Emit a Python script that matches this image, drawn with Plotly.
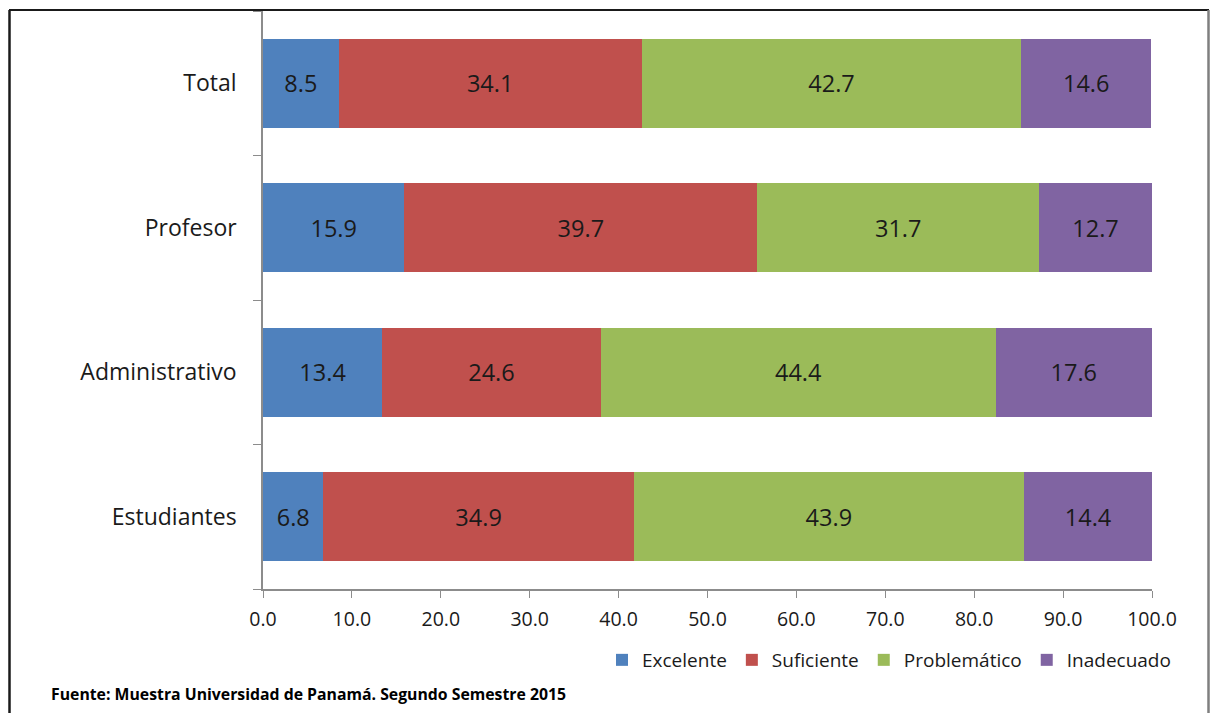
import plotly.graph_objects as go

# Survey groups (top to bottom as drawn)
categorias = ["Total", "Profesor", "Administrativo", "Estudiantes"]

excelente = [8.5, 15.9, 13.4, 6.8]
suficiente = [34.1, 39.7, 24.6, 34.9]
problematico = [42.7, 31.7, 44.4, 43.9]
inadecuado = [14.6, 12.7, 17.6, 14.4]

series = [
    ("Excelente", excelente, "#4F81BD"),
    ("Suficiente", suficiente, "#C0504D"),
    ("Problemático", problematico, "#9BBB59"),
    ("Inadecuado", inadecuado, "#8064A2"),
]

ticks_x = [0, 10, 20, 30, 40, 50, 60, 70, 80, 90, 100]

FONT = "Open Sans, Liberation Sans, sans-serif"
TEXT = "#1a1a1a"

fig = go.Figure()
for nombre, valores, color in series:
    fig.add_trace(go.Bar(
        name=nombre,
        y=categorias,
        x=valores,
        orientation="h",
        marker=dict(color=color, line=dict(width=0)),
        text=[f"{v:.1f}" for v in valores],
        textposition="inside",
        insidetextanchor="middle",
        textangle=0,
        constraintext="none",
        textfont=dict(family=FONT, size=23.5, color=TEXT),
    ))

W, H = 1211, 713
L, R, T, B = 263, 59, 11, 124
pw, ph = W - L - R, H - T - B


def px_x(p):
    return (p - L) / pw


def px_y(p):
    return (H - B - p) / ph


fig.update_layout(
    width=W,
    height=H,
    barmode="stack",
    bargap=0.385,
    margin=dict(l=L, r=R, t=T, b=B),
    paper_bgcolor="white",
    plot_bgcolor="white",
    font=dict(family=FONT, color=TEXT),
    xaxis=dict(
        range=[0, 100],
        tickvals=ticks_x,
        ticktext=[f"{v:.1f}" for v in ticks_x],
        showgrid=False,
        zeroline=False,
        showline=True,
        linecolor="#8c8c8c",
        linewidth=1.5,
        ticks="outside",
        ticklen=7,
        tickcolor="#8c8c8c",
        ticklabelstandoff=5,
        tickfont=dict(family=FONT, size=19.5, color=TEXT),
        fixedrange=True,
    ),
    yaxis=dict(
        categoryorder="array",
        categoryarray=categorias[::-1],
        showgrid=False,
        zeroline=False,
        showline=True,
        linecolor="#8c8c8c",
        linewidth=1.5,
        ticks="outside",
        tickson="boundaries",
        ticklen=8,
        tickcolor="#8c8c8c",
        ticklabelstandoff=20,
        tickfont=dict(family=FONT, size=23, color=TEXT),
        fixedrange=True,
    ),
    legend=dict(
        orientation="h",
        x=px_x(1176),
        xanchor="right",
        y=px_y(660),
        yanchor="middle",
        font=dict(family=FONT, size=19, color=TEXT),
        traceorder="normal",
        itemwidth=30,
        bgcolor="rgba(0,0,0,0)",
    ),
    showlegend=True,
)

fig.add_annotation(
    text="<b>Fuente: Muestra Universidad de Panamá. Segundo Semestre 2015</b>",
    xref="paper", yref="paper",
    x=px_x(49), y=px_y(694),
    xanchor="left", yanchor="middle",
    showarrow=False,
    font=dict(family=FONT, size=15.8, color="#000000"),
)

# Outer frame of the figure
fig.add_shape(type="line", xref="paper", yref="paper",
              x0=px_x(9), x1=px_x(1209), y0=px_y(10), y1=px_y(10),
              line=dict(color="#1a1a1a", width=2))
fig.add_shape(type="line", xref="paper", yref="paper",
              x0=px_x(9.5), x1=px_x(9.5), y0=px_y(10), y1=px_y(720),
              line=dict(color="#1a1a1a", width=2.5))
fig.add_shape(type="line", xref="paper", yref="paper",
              x0=px_x(1208.5), x1=px_x(1208.5), y0=px_y(10), y1=px_y(720),
              line=dict(color="#7f7f7f", width=2.5))

fig.write_html("out.html")
